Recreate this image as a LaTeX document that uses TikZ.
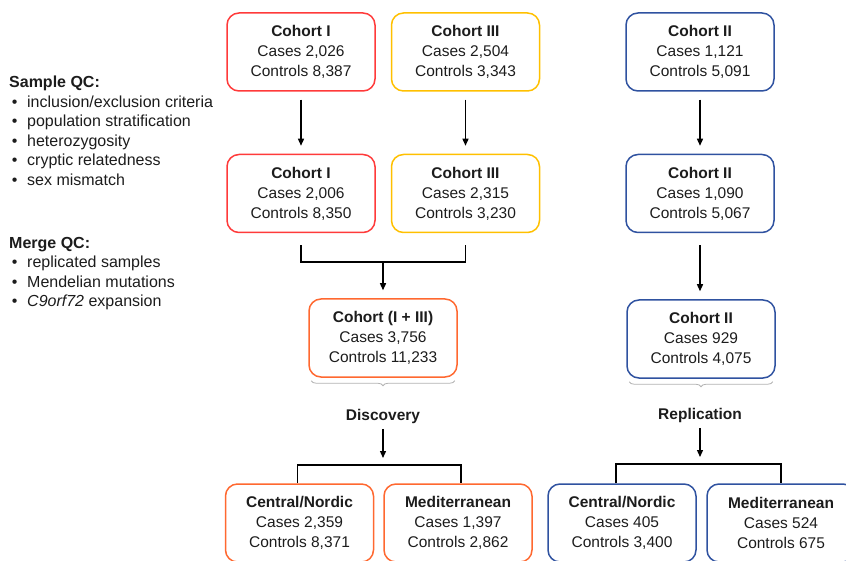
\documentclass[tikz,border=0pt]{standalone}
\usepackage{fontspec}
\setmainfont{Liberation Sans}
\usetikzlibrary{arrows.meta,decorations.pathreplacing}
\definecolor{cohred}{RGB}{255,58,58}
\definecolor{cohgold}{RGB}{255,192,0}
\definecolor{cohorange}{RGB}{255,104,48}
\definecolor{cohblue}{RGB}{47,82,160}
\definecolor{txt}{RGB}{28,28,28}
\def\cohort#1#2#3{\textbf{#1}\\Cases #2\\Controls #3}

\begin{document}
\begin{tikzpicture}[x=1pt,y=-1pt,
	box/.style={draw=#1, line width=1.5pt, rounded corners=12pt, minimum width=148pt, minimum height=78pt, align=center, text=txt, font=\fontsize{15.5}{20}\selectfont, inner sep=0pt},
	arr/.style={line width=1.3pt, -{Triangle[length=7pt,width=6pt]}, shorten <=8pt, shorten >=8pt},
	link/.style={line width=1.3pt},
	brc/.style={draw=black!30, line width=0.8pt, decorate, decoration={brace, mirror, amplitude=5pt, raise=3pt}},
	lbl/.style={text=txt, font=\fontsize{15.5}{20}\selectfont\bfseries}]
		%%%%% START %%%%%
		\useasboundingbox (0,0) rectangle (846,561);
		
		% quality control notes
		\node[anchor=north west, align=left, inner sep=0pt, text=txt, font=\fontsize{16}{19.5}\selectfont] (sampleqc) at (9,76) {\textbf{Sample QC:}\\
			\makebox[18pt][l]{\,•}inclusion/exclusion criteria\\
			\makebox[18pt][l]{\,•}population stratification\\
			\makebox[18pt][l]{\,•}heterozygosity\\
			\makebox[18pt][l]{\,•}cryptic relatedness\\
			\makebox[18pt][l]{\,•}sex mismatch};
		\node[anchor=north west, align=left, inner sep=0pt, text=txt, font=\fontsize{16}{19.5}\selectfont] (mergeqc) at (9,237) {\textbf{Merge QC:}\\
			\makebox[18pt][l]{\,•}replicated samples\\
			\makebox[18pt][l]{\,•}Mendelian mutations\\
			\makebox[18pt][l]{\,•}\textit{C9orf72} expansion};
		
		% discovery side
		\node[box=cohred] (c1a) at (301,52) {\cohort{Cohort I}{2,026}{8,387}};
		\node[box=cohgold] (c3a) at (465.5,52) {\cohort{Cohort III}{2,504}{3,343}};
		\node[box=cohred] (c1b) at (301,193.5) {\cohort{Cohort I}{2,006}{8,350}};
		\node[box=cohgold] (c3b) at (465.5,193.5) {\cohort{Cohort III}{2,315}{3,230}};
		\node[box=cohorange] (c13) at (383,338) {\cohort{Cohort (I + III)}{3,756}{11,233}};
		\node[lbl] (disc) at (383,416) {Discovery};
		\node[box=cohorange] (cnA) at (299.5,523) {\cohort{Central/Nordic}{2,359}{8,371}};
		\node[box=cohorange] (medA) at (458,523) {\cohort{Mediterranean}{1,397}{2,862}};
		
		\draw[arr] (c1a) -- (c1b);
		\draw[arr] (c3a) -- (c3b);
		\coordinate (jn) at (383,262);
		\draw[link] ([yshift=-12pt]c1b.south) |- (jn) -| ([yshift=-12pt]c3b.south);
		\draw[arr, shorten <=0pt] (jn) -- (c13);
		\draw[brc] (c13.south west) ++(3,0) -- ([xshift=-3pt]c13.south east);
		\coordinate (jd) at (383,465);
		\draw[arr, shorten <=2pt, shorten >=7pt] (disc) -- (jd);
		\draw[link] ([xshift=-2pt]cnA.north) |- (jd) -| ([xshift=3pt]medA.north);
		
		% replication side
		\node[box=cohblue] (c2a) at (700,52) {\cohort{Cohort II}{1,121}{5,091}};
		\node[box=cohblue] (c2b) at (700,193.5) {\cohort{Cohort II}{1,090}{5,067}};
		\node[box=cohblue] (c2c) at (701,339) {\cohort{Cohort II}{929}{4,075}};
		\node[lbl] (repl) at (700,415) {Replication};
		\node[box=cohblue] (cnB) at (622,523) {\cohort{Central/Nordic}{405}{3,400}};
		\node[box=cohblue] (medB) at (781,523) {\cohort{Mediterranean}{524}{675}};
		
		\draw[arr] (c2a) -- (c2b);
		\draw[arr, shorten <=12pt] (c2b.south) -- ([xshift=-1pt]c2c.north);
		\draw[brc] (c2c.south west) ++(3,0) -- ([xshift=-3pt]c2c.south east);
		\coordinate (jr) at (700,464);
		\draw[arr, shorten <=2pt, shorten >=7pt] (repl) -- (jr);
		\draw[link] ([xshift=-6pt]cnB.north) |- (jr) -| (medB.north);
		
		%%%%% END %%%%%
	\end{tikzpicture}
\end{document}
